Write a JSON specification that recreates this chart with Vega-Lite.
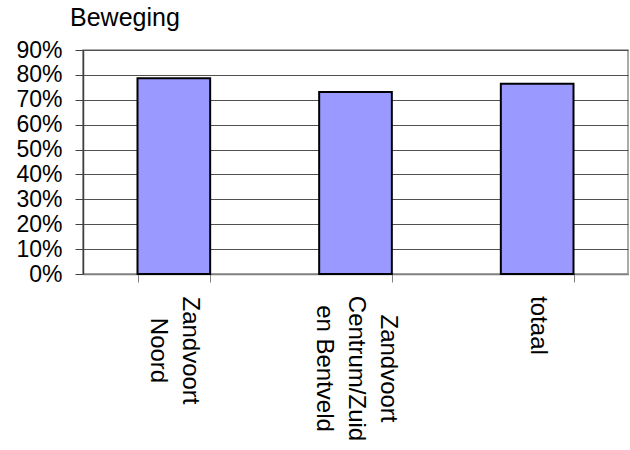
{
  "$schema": "https://vega.github.io/schema/vega-lite/v6.json",
  "autosize": {"type": "none"},
  "padding": {"left": 83, "top": 50, "right": 2, "bottom": 176},
  "width": 545,
  "height": 224,
  "background": "white",
  "config": {
    "font": "Liberation Sans",
    "view": {"stroke": "#909090", "strokeWidth": 1.5}
  },
  "title": {
    "text": "Beweging",
    "anchor": "start",
    "frame": "group",
    "fontSize": 25,
    "fontWeight": "normal",
    "color": "black",
    "baseline": "alphabetic",
    "offset": -12,
    "dx": -13
  },
  "data": {
    "values": [
      {"gebied": "Zandvoort Noord", "percentage": 0.786},
      {"gebied": "Zandvoort Centrum/Zuid en Bentveld", "percentage": 0.731},
      {"gebied": "totaal", "percentage": 0.764}
    ]
  },
  "mark": {"type": "bar", "fill": "#9999FF", "stroke": "black", "strokeWidth": 2},
  "encoding": {
    "x": {
      "field": "gebied",
      "type": "nominal",
      "sort": null,
      "scale": {"paddingInner": 0.6, "paddingOuter": 0.3},
      "axis": {
        "title": null,
        "labelAngle": 90,
        "labelAlign": "center",
        "labelBaseline": "middle",
        "labelFontSize": 24,
        "labelColor": "black",
        "labelLineHeight": 32,
        "labelPadding": {
          "condition": [
            {"test": "datum.value == 'Zandvoort Noord'", "value": 68},
            {"test": "datum.value == 'Zandvoort Centrum/Zuid en Bentveld'", "value": 86}
          ],
          "value": 43
        },
        "labelLimit": 300,
        "labelOffset": {
          "condition": [
            {"test": "datum.value == 'Zandvoort Noord'", "value": 16},
            {"test": "datum.value == 'Zandvoort Centrum/Zuid en Bentveld'", "value": 32}
          ],
          "value": 0
        },
        "tickBand": "extent",
        "tickSize": 8,
        "tickColor": "#808080",
        "domainColor": "#808080",
        "domainWidth": 1.5,
        "grid": false,
        "labelExpr": "datum.value == 'Zandvoort Noord' ? ['Zandvoort', 'Noord'] : datum.value == 'Zandvoort Centrum/Zuid en Bentveld' ? ['Zandvoort', 'Centrum/Zuid', 'en Bentveld'] : datum.label"
      }
    },
    "y": {
      "field": "percentage",
      "type": "quantitative",
      "scale": {"domain": [0, 0.9], "nice": false},
      "axis": {
        "title": null,
        "values": [0, 0.1, 0.2, 0.3, 0.4, 0.5, 0.6, 0.7, 0.8, 0.9],
        "format": ".0%",
        "labelFontSize": 23,
        "labelColor": "black",
        "labelPadding": 13,
        "tickSize": 8,
        "tickColor": "#404040",
        "domainColor": "#404040",
        "domainWidth": 1.5,
        "gridColor": "#505050",
        "gridOpacity": 1,
        "gridWidth": 1.2
      }
    }
  }
}
